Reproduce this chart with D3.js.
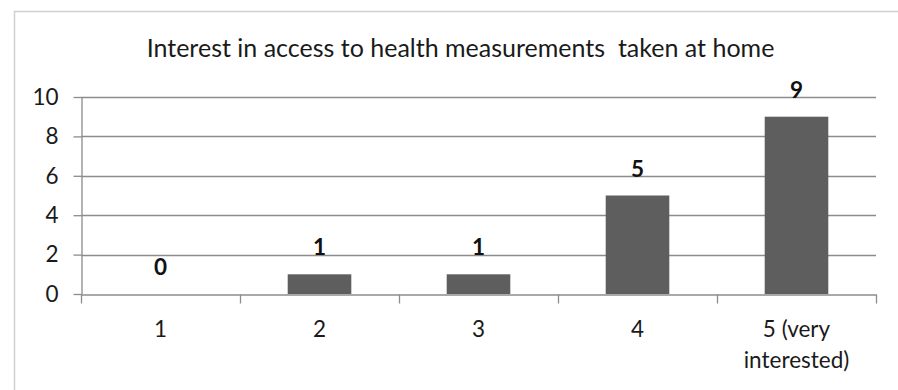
<!DOCTYPE html>
<html>
<head>
<meta charset="utf-8">
<script src="https://cdn.jsdelivr.net/npm/d3@7"></script>
<style>
  html, body { margin: 0; padding: 0; background: #fff; }
  svg { display: block; font-family: Lato, "Open Sans", sans-serif; }
</style>
</head>
<body>
<svg id="chart" width="898" height="390"></svg>
<script>
// Survey answers: interest rating and number of respondents
const categories = ["1", "2", "3", "4", "5 (very interested)"];
const counts = [0, 1, 1, 5, 9];
const yTicks = [0, 2, 4, 6, 8, 10];
const chartTitle = "Interest in access to health measurements  taken at home";

const svg = d3.select("#chart");
const plot = { left: 81, right: 876, top: 97, bottom: 294 };

// Chart-area frame (top and left edges)
svg.append("path")
  .attr("d", "M14.5,390 V11.5 H898")
  .attr("fill", "none")
  .attr("stroke", "#d0d0d0")
  .attr("stroke-width", 1.5);

const y = d3.scaleLinear().domain([0, 10]).range([plot.bottom, plot.top]);
const slot = d3.scaleBand().domain(categories).range([plot.left, plot.right]);
const bar = d3.scaleBand().domain(categories).range([plot.left, plot.right])
  .paddingInner(0.6).paddingOuter(0.3);
const edge = d3.scaleLinear().domain([0, categories.length]).range([plot.left, plot.right]);

// Horizontal gridlines
svg.append("g")
  .selectAll("line")
  .data(yTicks.filter(d => d > 0))
  .join("line")
  .attr("x1", plot.left).attr("x2", plot.right)
  .attr("y1", d => Math.round(y(d)) + 0.5).attr("y2", d => Math.round(y(d)) + 0.5)
  .attr("stroke", "#8c8c8c").attr("stroke-width", 1.3);

// Y axis
const yAxis = svg.append("g")
  .attr("transform", `translate(${plot.left + 0.5},0)`)
  .call(d3.axisLeft(y).tickValues(yTicks).tickSize(8).tickSizeOuter(0).tickPadding(15).tickFormat(d3.format("d")));
yAxis.select(".domain").attr("stroke", "#8c8c8c").attr("stroke-width", 1.3);
yAxis.selectAll(".tick line").attr("stroke", "#8c8c8c").attr("stroke-width", 1.3);
yAxis.selectAll(".tick text")
  .attr("fill", "#1a1a1a")
  .style("font-family", "Lato, 'Open Sans', sans-serif")
  .style("font-size", "22.5px");

// X axis: tick marks at category boundaries
const xAxis = svg.append("g")
  .attr("transform", `translate(0,${plot.bottom + 0.5})`)
  .call(d3.axisBottom(edge).tickValues(d3.range(categories.length + 1)).tickSize(9).tickSizeOuter(0).tickFormat(""));
xAxis.select(".domain").attr("stroke", "#8c8c8c").attr("stroke-width", 1.3);
xAxis.selectAll(".tick line").attr("stroke", "#8c8c8c").attr("stroke-width", 1.3);

// Bars
svg.append("g")
  .selectAll("rect")
  .data(categories)
  .join("rect")
  .attr("x", d => bar(d))
  .attr("width", bar.bandwidth())
  .attr("y", (d, i) => y(counts[i]))
  .attr("height", (d, i) => y(0) - y(counts[i]))
  .attr("fill", "#5e5e5e");

// Value labels above bars
svg.append("g")
  .selectAll("text")
  .data(categories)
  .join("text")
  .attr("x", d => bar(d) + bar.bandwidth() / 2)
  .attr("y", (d, i) => y(counts[i]) - 19)
  .attr("text-anchor", "middle")
  .attr("font-size", 22.5)
  .attr("font-weight", "bold")
  .attr("fill", "#111")
  .text((d, i) => counts[i]);

// Category labels, wrapped to fit each slot
const catLabels = svg.append("g")
  .selectAll("text")
  .data(categories)
  .join("text")
  .attr("x", d => slot(d) + slot.bandwidth() / 2)
  .attr("y", 337)
  .attr("text-anchor", "middle")
  .attr("font-size", 22.5)
  .attr("fill", "#1a1a1a");

catLabels.each(function (d) {
  const t = d3.select(this);
  const cx = +t.attr("x");
  const words = d.split(" ");
  let line = [];
  let tspan = t.append("tspan").attr("x", cx).attr("dy", 0);
  words.forEach(w => {
    line.push(w);
    tspan.text(line.join(" "));
    if (tspan.node().getComputedTextLength() > slot.bandwidth() - 30 && line.length > 1) {
      line.pop();
      tspan.text(line.join(" "));
      line = [w];
      tspan = t.append("tspan").attr("x", cx).attr("dy", 30.5).text(w);
    }
  });
});

// Title (double space kept as written)
svg.append("text")
  .attr("x", 460.5)
  .attr("y", 56.5)
  .attr("text-anchor", "middle")
  .attr("font-size", 25)
  .attr("fill", "#1a1a1a")
  .style("white-space", "pre")
  .text(chartTitle);
</script>
</body>
</html>
